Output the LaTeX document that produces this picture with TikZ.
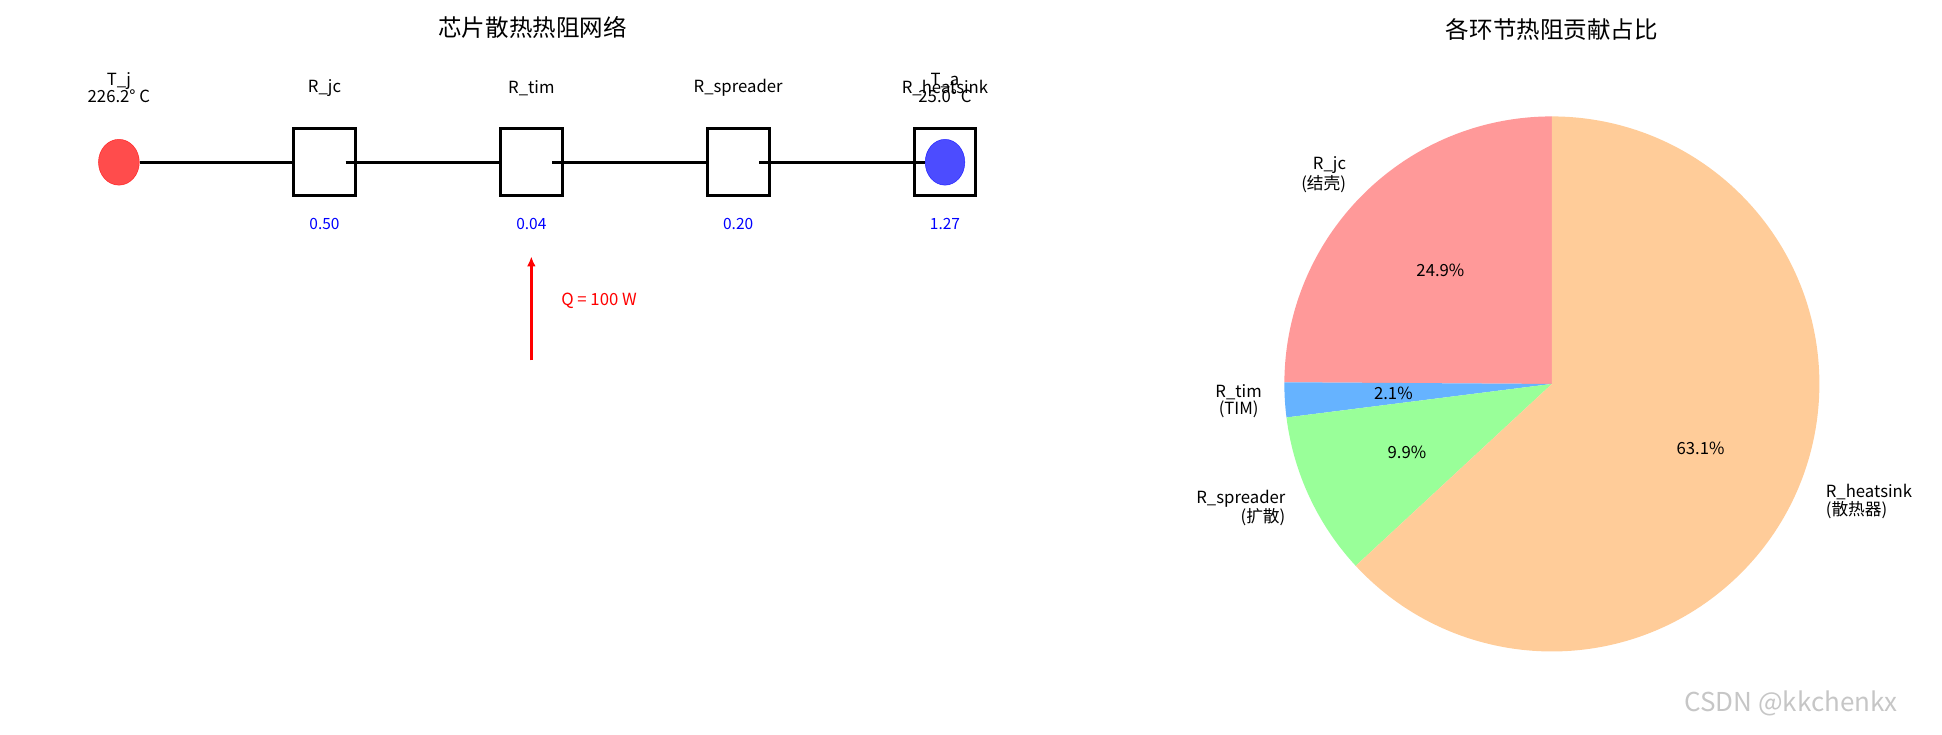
\documentclass[tikz,border=0pt]{standalone}
\usetikzlibrary{shapes.geometric,arrows.meta}
\usepackage{fontspec}
\setmainfont{Noto Sans CJK SC}
\definecolor{cjc}{HTML}{FF9999}
\definecolor{ctim}{HTML}{66B3FF}
\definecolor{csp}{HTML}{99FF99}
\definecolor{chs}{HTML}{FFCC99}
\begin{document}
\begin{tikzpicture}[x=1pt,y=-1pt,
  lbl/.style={font=\fontsize{13.5}{14}\selectfont,inner sep=0pt,align=center},
  val/.style={font=\fontsize{12.5}{13}\selectfont,text=blue,inner sep=0pt},
  ttl/.style={font=\fontsize{19}{21}\selectfont,inner sep=0pt},
  rbox/.style={draw,line width=2.4pt,minimum width=50pt,minimum height=54pt,fill=white},
  wire/.style={line width=2.4pt}]
\path[use as bounding box] (0,0) rectangle (1568,593);
\node[ttl] (t1) at (430,22) {芯片散热热阻网络};
\node[ttl] (t2) at (1253,24) {各环节热阻贡献占比};
% network
\node[ellipse,fill=red,fill opacity=0.7,draw=red,draw opacity=0.7,minimum width=33pt,minimum height=37pt,inner sep=0pt] (tj) at (96,131) {};
\node[rbox] (b1) at (262,131) {};
\node[rbox] (b2) at (429,131) {};
\node[rbox] (b3) at (596,131) {};
\node[rbox] (b4) at (763,131) {};
\node[ellipse,fill=blue,fill opacity=0.7,draw=blue,draw opacity=0.7,minimum width=32pt,minimum height=37pt,inner sep=0pt] (ta) at (763,131) {};
\coordinate (s1) at (279,131);
\coordinate (s2) at (446,131);
\coordinate (s3) at (613,131);
\draw[wire] (tj.east) -- (b1.west);
\draw[wire] (s1) -- (b2.west);
\draw[wire] (s2) -- (b3.west);
\draw[wire] (s3) -- (ta.west);
\node[lbl] (ltj) at (96,71) {T\_j\\226.2° C};
\node[lbl] (l1) at (262,71) {R\_jc};
\node[lbl] (l2) at (429,71) {R\_tim};
\node[lbl] (l3) at (596,71) {R\_spreader};
\node[lbl] (l4) at (763,71) {R\_heatsink};
\node[lbl] (lta) at (763,71) {T\_a\\25.0° C};
\node[val] (v1) at (262,181) {0.50};
\node[val] (v2) at (429,181) {0.04};
\node[val] (v3) at (596,181) {0.20};
\node[val] (v4) at (763,181) {1.27};
\coordinate (qa) at (429,291);
\coordinate (qb) at (429,207);
\draw[red,line width=2.2pt,-{Latex[length=8pt,width=7pt]}] (qa) -- (qb);
\node[lbl,text=red,anchor=west] (q) at (453,243) {Q = 100 W};
% pie
\coordinate (pc) at (1253,310);
\fill[cjc] (pc) -- ++(0,-216) arc[start angle=-90,end angle=-179.64,radius=216] -- cycle;
\fill[ctim] (pc) -- ++(-179.64:216) arc[start angle=-179.64,end angle=-187.2,radius=216] -- cycle;
\fill[csp] (pc) -- ++(-187.2:216) arc[start angle=-187.2,end angle=-222.84,radius=216] -- cycle;
\fill[chs] (pc) -- ++(-222.84:216) arc[start angle=-222.84,end angle=-450,radius=216] -- cycle;
\node[lbl] (p1) at (1163,218) {24.9\%};
\node[lbl] (p2) at (1125,318) {2.1\%};
\node[lbl] (p3) at (1136,365) {9.9\%};
\node[lbl] (p4) at (1373,362) {63.1\%};
\node[lbl,align=right,anchor=east] (o1) at (1087,141) {R\_jc\\(结壳)};
\node[lbl,align=center,anchor=east] (o2) at (1019,324) {R\_tim\\(TIM)};
\node[lbl,align=right,anchor=east] (o3) at (1038,410) {R\_spreader\\(扩散)};
\node[lbl,align=left,anchor=west] (o4) at (1474,405) {R\_heatsink\\(散热器)};
\node[font=\fontsize{21}{23}\selectfont,text=gray!45,inner sep=0pt] (wm) at (1446,568) {CSDN @kkchenkx};
\end{tikzpicture}
\end{document}
